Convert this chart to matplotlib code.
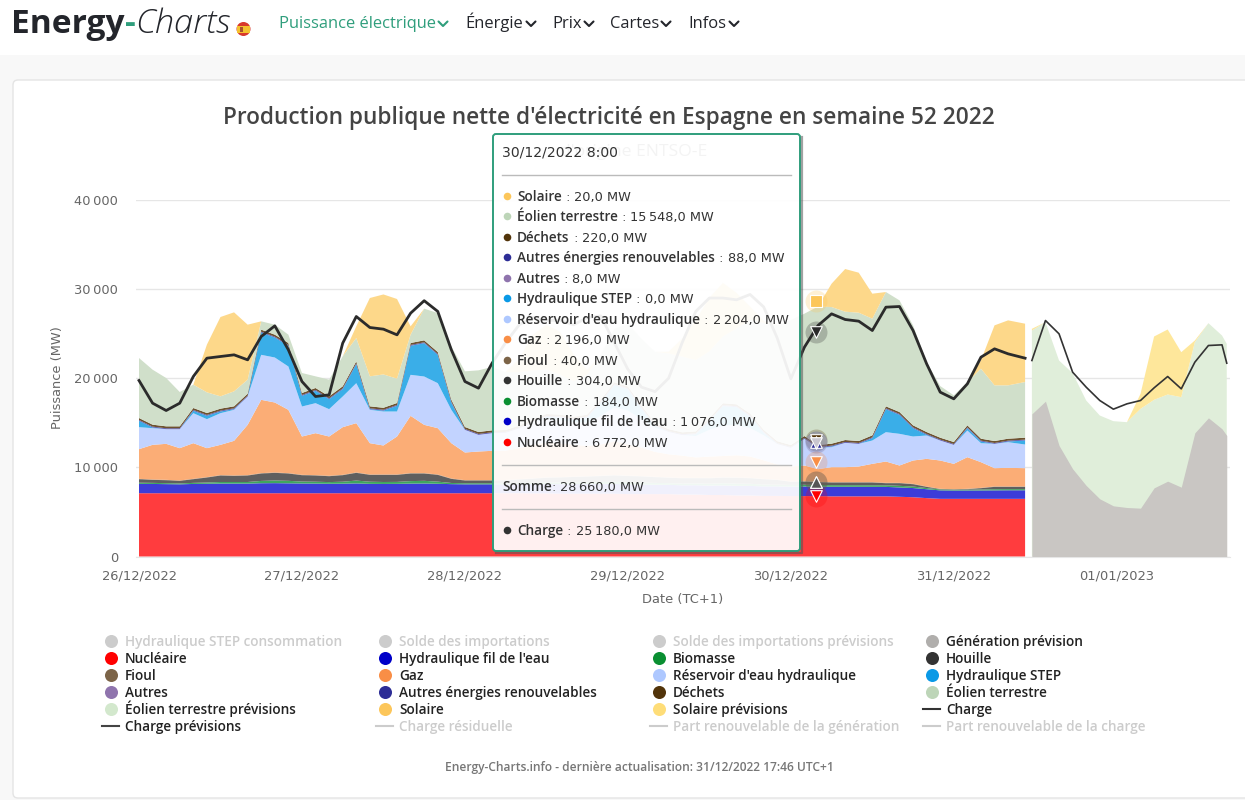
import matplotlib

matplotlib.use("Agg")

import matplotlib.pyplot as plt
import numpy as np
from matplotlib.patches import Circle, FancyBboxPatch, Rectangle

# production, one value every 2 h from 26/12 00:00
nucleaire = [7100, 7100, 7100, 7100, 7100, 7100, 7100, 7100, 7100, 7100, 7100, 7100, 7100, 7100, 7100, 7100, 7100, 7100, 7100, 7100, 7100, 7100, 7100, 7100, 7100, 7100, 7100,
             7100, 7100, 7080, 7080, 7050, 7050, 7050, 7050, 7050, 7000, 7000, 7000, 7000, 6950, 6950, 6900, 6900, 6850, 6850, 6800, 6800,
             6780, 6780, 6772, 6750, 6750, 6750, 6750, 6750, 6700, 6650, 6550, 6470, 6470, 6470, 6470, 6470, 6470, 6470]
fil_eau = [1050, 1040, 1020, 1000, 1040, 1060, 1080, 1080, 1080, 1120, 1130, 1110, 1090, 1080, 1060, 1070, 1100, 1050, 1040, 1050, 1080, 1090, 1060, 1020, 1000, 1000, 1000,
           1000, 1020, 1040, 1060, 1070, 1080, 1090, 1100, 1100, 1090, 1070, 1050, 1040, 1040, 1050, 1060, 1080, 1080, 1070, 1070, 1070,
           1070, 1075, 1076, 1075, 1075, 1070, 1065, 1060, 1050, 1030, 1000, 950, 930, 935, 940, 950, 960, 960]
biomasse = [130, 120, 110, 100, 120, 140, 180, 180, 180, 260, 300, 280, 220, 210, 190, 220, 320, 240, 220, 220, 280, 300, 240, 130, 120, 120, 120,
            120, 130, 150, 170, 180, 190, 200, 220, 240, 240, 230, 210, 190, 190, 200, 210, 240, 250, 240, 210, 190,
            184, 190, 184, 180, 180, 180, 180, 180, 180, 170, 130, 100, 90, 90, 110, 130, 130, 130]
houille = [394, 339, 332, 287, 414, 561, 726, 688, 726, 830, 855, 820, 713, 696, 661, 733, 865, 770, 800, 790, 850, 820, 760, 462, 305, 305, 305,
           320, 380, 450, 520, 560, 600, 620, 650, 700, 700, 680, 640, 600, 600, 580, 600, 620, 640, 620, 580, 520,
           341, 367, 304, 295, 295, 300, 305, 235, 295, 263, 134, 32, 25, 57, 144, 264, 254, 254]
fioul = [40, 40, 40, 40, 40, 40, 40, 40, 40, 40, 40, 40, 40, 40, 40, 40, 40, 40, 40, 40, 40, 40, 40, 40, 40, 40, 40,
         40, 40, 40, 40, 40, 40, 40, 40, 40, 40, 40, 40, 40, 40, 40, 40, 40, 40, 40, 40, 40,
         40, 40, 40, 40, 40, 40, 40, 40, 40, 40, 40, 40, 40, 40, 40, 40, 40, 40]
gaz = [3329, 3890, 4039, 3628, 4002, 3254, 3403, 3890, 5647, 8228, 7854, 7106, 4301, 4712, 4413, 5348, 5535, 3516, 3254, 4264, 6433, 5423, 5199, 3964, 3104, 3216, 3291,
       3300, 3500, 3800, 3900, 3800, 3600, 3400, 3500, 3800, 3500, 3200, 2800, 2600, 2500, 2300, 2400, 2400, 2500, 2400, 2100, 1700,
       1683, 1758, 1421, 1683, 1683, 1758, 2057, 2394, 1945, 2618, 3104, 3179, 2842, 3553, 2880, 2057, 2094, 2057]
reservoir = [2468, 1870, 1646, 2132, 3366, 3254, 3553, 3478, 3179, 5049, 5049, 4862, 3366, 3366, 3067, 3441, 4488, 3740, 3815, 2805, 4600, 5423, 5049, 3740, 2543, 1870, 1982,
             2000, 2200, 2500, 2700, 2600, 2500, 2600, 3200, 3800, 3800, 3200, 2700, 2500, 2300, 2400, 3000, 3400, 3400, 3200, 2800, 2300,
             2094, 2992, 2400, 2244, 2730, 2543, 2618, 3291, 3553, 2693, 2618, 2244, 2132, 2992, 2132, 2730, 2880, 2655]
step = [710, 75, 0, 0, 262, 374, 187, 75, 0, 2506, 2244, 2319, 1197, 1384, 1122, 823, 2132, 75, 100, 636, 3254, 3740, 3179, 823, 0, 0, 0,
        0, 0, 0, 200, 300, 300, 600, 1500, 2500, 2400, 1200, 200, 0, 0, 200, 1000, 2200, 2000, 1300, 300, 0,
        0, 0, 0, 75, 0, 0, 262, 2581, 2132, 935, 75, 0, 0, 262, 187, 0, 75, 449]
autres = [8, 8, 8, 8, 8, 8, 8, 8, 8, 8, 8, 8, 8, 8, 8, 8, 8, 8, 8, 8, 8, 8, 8, 8, 8, 8, 8,
          8, 8, 8, 8, 8, 8, 8, 8, 8, 8, 8, 8, 8, 8, 8, 8, 8, 8, 8, 8, 8,
          8, 8, 8, 8, 8, 8, 8, 8, 8, 8, 8, 8, 8, 8, 8, 8, 8, 8]
autres_enr = [90, 90, 90, 90, 90, 90, 90, 90, 90, 90, 90, 90, 90, 90, 90, 90, 90, 90, 90, 90, 90, 90, 90, 90, 90, 90, 90,
              90, 90, 90, 90, 90, 90, 90, 90, 90, 90, 90, 90, 90, 90, 90, 90, 90, 90, 90, 90, 90,
              88, 88, 88, 88, 88, 88, 88, 88, 88, 88, 88, 88, 88, 88, 88, 88, 88, 88]
dechets = [220, 220, 220, 220, 220, 220, 220, 220, 220, 220, 220, 220, 220, 220, 220, 220, 220, 220, 220, 220, 220, 220, 220, 220, 220, 220, 220,
           220, 220, 220, 220, 220, 220, 220, 220, 220, 220, 220, 220, 220, 220, 220, 220, 220, 220, 220, 220, 220,
           220, 220, 220, 220, 220, 220, 220, 220, 220, 220, 220, 220, 220, 220, 220, 220, 220, 220]
eolien = [6732, 6171, 5423, 3852, 2618, 2319, 1384, 1683, 1571, 935, 1122, 935, 2244, 1309, 1870, 3366, 2618, 3366, 3740, 2730, 935, 3553, 4376, 5984, 6246, 6919, 7106,
          6500, 6000, 5500, 5000, 4500, 4000, 4500, 5000, 6000, 7000, 7500, 8000, 8500, 8500, 8000, 7500, 7500, 8500, 10500, 12000, 13000,
          14025, 13726, 15521, 15334, 14399, 14399, 13090, 12828, 12529, 11220, 7854, 5797, 5236, 4862, 7854, 6246, 5984, 6246]
solaire = [0, 0, 0, 0, 0, 5348, 8901, 8864, 6171, 0, 0, 0, 0, 0, 0, 0, 1309, 8789, 8976, 8939, 935, 0, 0, 0, 0, 0, 0,
           0, 1500, 4000, 5000, 4800, 3000, 500, 0, 0, 0, 0, 0, 200, 2000, 4500, 6000, 6000, 4000, 1500, 200, 0,
           0, 0, 20, 2618, 4787, 4488, 2805, 0, 0, 0, 0, 0, 0, 0, 935, 6732, 7293, 6545]
charge = [19747, 17204, 16381, 17204, 20196, 22253, 22440, 22627, 22066, 24684, 25881, 23188, 19635, 17952, 18139, 23936, 26928, 25694, 25507, 24871, 27302, 28700, 27500, 23188, 19635, 18887, 21692,
          24000, 26000, 26800, 26500, 26500, 26000, 26800, 27000, 24000, 21000, 19000, 18500, 20000, 24000, 27500, 29000, 29000, 28800, 29400, 28000, 24500,
          19934, 23487, 25918, 27227, 26591, 26404, 25357, 27975, 28050, 25357, 21617, 18438, 17690, 19373, 22365, 23300, 22739, 22253]

# forecasts
heures_prev = [131.5, 133.5, 135.5, 137.5, 139.5, 141.5, 143.5, 145.5, 147.5, 149.5, 151.5, 153.5, 155.5, 157.5, 159.5, 160.2]
generation_prev = [16007, 17428, 12454, 9836, 7966, 6470, 5685, 5498, 5423, 7704, 8452, 7779, 13875, 15558, 14324, 13576]
eolien_prev = [25357, 26292, 21991, 20570, 17503, 15820, 15184, 15072, 16568, 17578, 18176, 17877, 24048, 26180, 24796, 23861]
solaire_prev = [190, 0, 0, 0, 0, 0, 0, 0, 1683, 7106, 7293, 5049, 187, 0, 0, 0]
charge_prev = [21991, 26479, 24983, 20682, 18999, 17503, 16531, 17129, 17503, 18924, 20196, 18812, 21804, 23674, 23749, 21692]

y_ticks = [0, 10000, 20000, 30000, 40000]
y_labels = ["0", "10\u2009000", "20\u2009000", "30\u2009000", "40\u2009000"]
x_ticks = [0, 24, 48, 72, 96, 120, 144]
x_labels = ["26/12/2022", "27/12/2022", "28/12/2022", "29/12/2022", "30/12/2022", "31/12/2022", "01/01/2023"]

# hovered point, as listed in the tooltip, bottom of the stack first
hover_names = ["Nucléaire", "Hydraulique fil de l'eau", "Biomasse", "Houille", "Fioul", "Gaz",
               "Réservoir d'eau hydraulique", "Hydraulique STEP", "Autres", "Autres énergies renouvelables",
               "Déchets", "Éolien terrestre", "Solaire"]
hover_values = [6772, 1076, 184, 304, 40, 2196, 2204, 0, 8, 88, 220, 15548, 20]
hover_labels = ["6\u2009772,0", "1\u2009076,0", "184,0", "304,0", "40,0", "2\u2009196,0", "2\u2009204,0", "0,0", "8,0", "88,0",
                "220,0", "15\u2009548,0", "20,0"]
hover_charge = 25180

FILL = ["#ff3c3e", "#3c3cd8", "#3fa65e", "#5f5f5f", "#7a6a55", "#fbad76", "#c2d3ff", "#3aaee8",
        "#9a7fb5", "#4a4ab0", "#6d5230", "#d0dfca", "#fdd88a"]
DOTS = ["#ff0000", "#0000c8", "#0a8f32", "#333333", "#7c6448", "#f98e46", "#aec8ff", "#0a99e6",
        "#8f74ad", "#2d2d96", "#52340a", "#bdd5b8", "#fcc65a"]
GREEN = "#2f9e7c"
SANS = "Open Sans"
MONO = "DejaVu Sans"


def px_to_pt(px):
    return px * 72 / 100


fig = plt.figure(figsize=(12.45, 8.0), dpi=100, facecolor="white")

# page layer, in pixels
page = fig.add_axes([0, 0, 1, 1], zorder=0)
page.set_xlim(0, 1245)
page.set_ylim(800, 0)
page.axis("off")
page.add_patch(Rectangle((0, 55), 1245, 745, fc="#f8f8f8", ec="none"))
page.add_patch(FancyBboxPatch((13, 80), 1260, 718, boxstyle="round,pad=0,rounding_size=5", fc="white", ec="#e4e4e4", lw=1))


def draw_text_run(ax, x, y, parts, size):
    # parts = (text, weight, style, colour, family, size), drawn one after the other on a shared baseline
    renderer = fig.canvas.get_renderer()
    for text, weight, style, color, family, part_size in parts:
        t = ax.text(x, y, text, fontsize=px_to_pt(part_size or size), fontweight=weight, fontstyle=style,
                    color=color, va="baseline", ha="left", family=family)
        x += t.get_window_extent(renderer).width


# header
draw_text_run(page, 11, 33, [("Energy", "bold", "normal", "#23252b", SANS, None), ("-", "bold", "normal", GREEN, SANS, None),
                             ("Charts", "light", "italic", "#23252b", SANS, 34.5)], 33.5)
page.add_patch(Circle((243.5, 29), 7, fc="#d8392b", ec="none"))
page.add_patch(Rectangle((236.8, 25.5), 13.4, 7, fc="#f4c22e", ec="none"))
page.add_patch(Rectangle((239.5, 26.5), 3, 5, fc="#a8512c", ec="none"))

menu = [("Puissance électrique", 279, GREEN, 443), ("Énergie", 465, "#23252b", 531), ("Prix", 552, "#23252b", 589),
        ("Cartes", 610, "#23252b", 666), ("Infos", 688, "#23252b", 734)]
for label, x0, color, chev in menu:
    page.text(x0, 28, label, fontsize=px_to_pt(16.5), color=color, va="baseline", ha="left", family=SANS)
    page.plot([chev - 4.5, chev, chev + 4.5], [21.5, 26, 21.5], color=color, lw=1.5, solid_capstyle="round")

page.text(609, 124, "Production publique nette d'électricité en Espagne en semaine 52 2022", fontsize=px_to_pt(22.6),
          fontweight="semibold", color="#444444", ha="center", va="baseline", family=SANS)
page.text(707, 156, "d'origine ENTSO-E", fontsize=px_to_pt(17.5), color="#666666", ha="right", va="baseline", family=SANS)

# chart: h = 0 at x = 139 px, 6.79 px per hour; 0 MW at y = 556.5 px, 40000 MW at y = 200 px
ax = fig.add_axes([136 / 1245, (800 - 556.5) / 800, (1230 - 136) / 1245, (556.5 - 200) / 800], zorder=1)
ax.patch.set_alpha(0)
ax.set_xlim((136 - 139) / 6.79, (1230 - 139) / 6.79)
ax.set_ylim(0, 40000)

heures = np.arange(0, 132, 2.0)
heures[-1] = 130.5
series = [nucleaire, fil_eau, biomasse, houille, fioul, gaz, reservoir, step, autres, autres_enr, dechets, eolien, solaire]
ax.stackplot(heures, *series, colors=FILL, lw=0, zorder=2)
ax.plot(heures, charge, color="#2b2b2b", lw=2.0, solid_joinstyle="round", zorder=4)

ax.stackplot(heures_prev, eolien_prev, solaire_prev, colors=["#e0eeda", "#fee79b"], lw=0, zorder=2)
ax.fill_between(heures_prev, 0, generation_prev, color="#c9c6c3", lw=0, zorder=3)
ax.plot(heures_prev, charge_prev, color="#333333", lw=1.2, zorder=4)

ax.set_yticks(y_ticks, y_labels)
ax.set_xticks(x_ticks, x_labels)
ax.tick_params(axis="both", length=0, labelsize=px_to_pt(13), labelcolor="#666666")
ax.tick_params(axis="y", pad=px_to_pt(18))
ax.tick_params(axis="x", pad=px_to_pt(13))
ax.grid(axis="y", color="#e6e6e6", lw=1, zorder=1)
ax.set_axisbelow(True)
for side in ["top", "left", "right"]:
    ax.spines[side].set_visible(False)
ax.spines["bottom"].set_color("#e6e6e6")
page.text(58, 378, "Puissance (MW)", rotation=90, fontsize=px_to_pt(13), color="#666666", ha="center", va="center")
page.text(683, 599, "Date (TC+1)", fontsize=px_to_pt(13), color="#666666", ha="center", va="center")

# hover markers
hover_h = 99.7
levels = np.cumsum(hover_values)
hover_marks = [(levels[12], "s", DOTS[12]), (hover_charge, "v", "#2b2b2b"), (levels[10], "v", DOTS[10]),
               (levels[9], "^", DOTS[9]), (levels[6], "v", "#c9c6cf"), (levels[5], "v", DOTS[5]),
               (levels[4], "^", DOTS[4]), (levels[3], "^", "#555555"), (levels[0], "v", DOTS[0])]
for level, shape, color in hover_marks:
    ax.scatter(hover_h, level, s=250, color=color, alpha=0.25, lw=0, zorder=5, clip_on=False)
    ax.scatter(hover_h, level, s=70, marker=shape, color=color, edgecolor="white", lw=0.8, zorder=6, clip_on=False)

# tooltip on top of the chart
over = fig.add_axes([0, 0, 1, 1], zorder=2)
over.set_xlim(0, 1245)
over.set_ylim(800, 0)
over.axis("off")
over.patch.set_alpha(0)
over.plot([496, 802, 802], [553, 553, 137], color="#555555", lw=1.6, alpha=0.55)
over.add_patch(FancyBboxPatch((493, 134), 307, 417, boxstyle="round,pad=0,rounding_size=3", fc=(1, 1, 1, 0.93), ec=GREEN, lw=1.4))
over.text(502, 156, "30/12/2022 8:00", fontsize=px_to_pt(14), color="#333333", va="baseline", ha="left", family=MONO)
for y_sep in [175, 465, 509]:
    over.plot([502, 791], [y_sep, y_sep], color="#bbbbbb", lw=1)

TXT = "#333333"
VAL_SIZE = 12.9
row_y = [442, 421, 401, 380, 360, 339, 319, 298, 278, 257, 237, 216, 196]
for name, val, y, color in zip(hover_names, hover_labels, row_y, DOTS):
    over.scatter(507, y, s=30, color=color, lw=0)
    draw_text_run(over, 517, y + 5, [(name, "semibold", "normal", TXT, SANS, None), (" : ", "normal", "normal", "#666666", MONO, VAL_SIZE),
                                     (val + " MW", "normal", "normal", TXT, MONO, VAL_SIZE)], 13.6)
draw_text_run(over, 502, 491, [("Somme", "semibold", "normal", TXT, SANS, None), (": ", "normal", "normal", "#666666", MONO, VAL_SIZE),
                               ("28\u2009660,0 MW", "normal", "normal", TXT, MONO, VAL_SIZE)], 13.6)
over.scatter(507, 530, s=30, color=TXT, lw=0)
draw_text_run(over, 517, 535, [("Charge", "semibold", "normal", TXT, SANS, None), (" : ", "normal", "normal", "#666666", MONO, VAL_SIZE),
                               ("25\u2009180,0 MW", "normal", "normal", TXT, MONO, VAL_SIZE)], 13.6)

# legend, kept as page text since it is laid out on a fixed grid
GREY = "#cccccc"
legend_rows = [
    [("Hydraulique STEP consommation", GREY, True, "o"), ("Solde des importations", GREY, True, "o"),
     ("Solde des importations prévisions", GREY, True, "o"), ("Génération prévision", "#b0aeac", False, "o")],
    [("Nucléaire", DOTS[0], False, "o"), ("Hydraulique fil de l'eau", DOTS[1], False, "o"),
     ("Biomasse", DOTS[2], False, "o"), ("Houille", DOTS[3], False, "o")],
    [("Fioul", DOTS[4], False, "o"), ("Gaz", DOTS[5], False, "o"),
     ("Réservoir d'eau hydraulique", DOTS[6], False, "o"), ("Hydraulique STEP", DOTS[7], False, "o")],
    [("Autres", DOTS[8], False, "o"), ("Autres énergies renouvelables", DOTS[9], False, "o"),
     ("Déchets", DOTS[10], False, "o"), ("Éolien terrestre", DOTS[11], False, "o")],
    [("Éolien terrestre prévisions", "#d3e8cd", False, "o"), ("Solaire", DOTS[12], False, "o"),
     ("Solaire prévisions", "#fedd78", False, "o"), ("Charge", "#333333", False, "-")],
    [("Charge prévisions", "#444444", False, "-"), ("Charge résiduelle", GREY, True, "-"),
     ("Part renouvelable de la génération", GREY, True, "-"), ("Part renouvelable de la charge", GREY, True, "-")],
]
col_x = [111, 385, 659, 932]
row_pos = [641, 658, 675, 692, 709, 726]
for y, row in zip(row_pos, legend_rows):
    for x, (label, color, off, kind) in zip(col_x, row):
        if kind == "o":
            page.scatter(x, y, s=88, color=color, lw=0)
        else:
            page.plot([x - 9, x + 8], [y, y], color=color, lw=1.5)
        page.text(x + 14, y + 5, label, fontsize=px_to_pt(13.6), fontweight="semibold",
                  color=GREY if off else "#222222", va="baseline", ha="left", family=SANS)

page.text(639, 771, "Energy-Charts.info - dernière actualisation: 31/12/2022 17:46 UTC+1", fontsize=px_to_pt(12),
          fontweight="semibold", color="#777777", ha="center", va="baseline", family=SANS)

fig.savefig("out.png", dpi=100)
plt.close(fig)
